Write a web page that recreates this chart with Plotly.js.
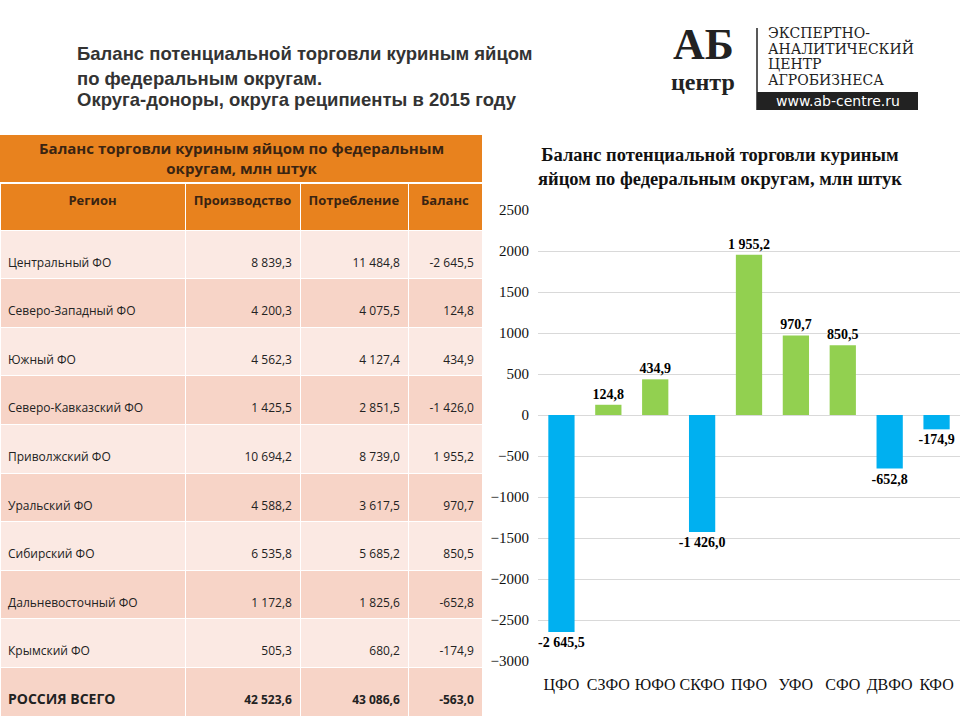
<!DOCTYPE html>
<html><head><meta charset="utf-8">
<script src="https://cdn.plot.ly/plotly-3.0.1.min.js"></script>
<style>html,body{margin:0;padding:0;background:#fff}#c{width:960px;height:720px}</style>
</head><body><div id="c"></div>
<script>
const regions = ["Центральный ФО","Северо-Западный ФО","Южный ФО","Северо-Кавказский ФО","Приволжский ФО","Уральский ФО","Сибирский ФО","Дальневосточный ФО","Крымский ФО","РОССИЯ ВСЕГО"];
const production = ["8 839,3","4 200,3","4 562,3","1 425,5","10 694,2","4 588,2","6 535,8","1 172,8","505,3","42 523,6"];
const consumption = ["11 484,8","4 075,5","4 127,4","2 851,5","8 739,0","3 617,5","5 685,2","1 825,6","680,2","43 086,6"];
const balanceText = ["-2 645,5","124,8","434,9","-1 426,0","1 955,2","970,7","850,5","-652,8","-174,9","-563,0"];
const tableHeaders = ["Регион","Производство","Потребление","Баланс"];

const districts = ["ЦФО","СЗФО","ЮФО","СКФО","ПФО","УФО","СФО","ДВФО","КФО"];
const balance = [-2645.5,124.8,434.9,-1426.0,1955.2,970.7,850.5,-652.8,-174.9];
const balanceLabels = ["-2 645,5","124,8","434,9","-1 426,0","1 955,2","970,7","850,5","-652,8","-174,9"];

const W=960,H=720;
const px=x=>x/W, py=y=>1-y/H;

const rowFill = regions.map((r,i)=> i%2===0 ? "#fbe9e3" : "#f7d4c7");
const last = regions.length-1;
const fmt = (arr)=>arr.map((v,i)=> i===last ? "&nbsp;<br><b>"+v+"</b>" : "&nbsp;<br>"+v);
const regionCells = regions.map((v,i)=> i===last ? "&nbsp;<br><b><span style='font-size:14px'>"+v+"</span></b>" : "&nbsp;<br>"+v);

const table = {
  type:"table",
  domain:{x:[0,px(482)], y:[0, py(183)]},
  columnwidth:[185,115,108,74],
  header:{
    values: tableHeaders.map(h=>"<b>"+h+"</b>"),
    align:"center",
    height:47,
    fill:{color:"#e8821e"},
    line:{color:"#ffffff", width:1},
    font:{family:"Open Sans, Noto Sans, sans-serif", size:13, color:"#3a2412"}
  },
  cells:{
    values:[regionCells, fmt(production), fmt(consumption), fmt(balanceText)],
    align:["left","right","right","right"],
    height:47.8,
    fill:{color:[rowFill,rowFill,rowFill,rowFill]},
    line:{color:"#ffffff", width:1},
    font:{family:"Open Sans, Noto Sans, sans-serif", size:12, color:"#222222"}
  }
};

const bars = {
  type:"bar",
  x:districts, y:balance,
  marker:{color:balance.map(v=> v<0 ? "#00b0f0" : "#92d050")},
  text:balanceLabels, textposition:"outside", cliponaxis:false, constraintext:"none",
  textfont:{family:"Liberation Serif, serif", size:14, color:"#000"},
  texttemplate:"<b>%{text}</b>",
  xaxis:"x", yaxis:"y", hoverinfo:"none"
};

const serif="Liberation Serif, Times New Roman, serif";
const narrow="Liberation Sans Narrow, Arial Narrow, sans-serif";
const ann = [
  {x:px(75),y:py(54),xref:"paper",yref:"paper",xanchor:"left",yanchor:"middle",showarrow:false,
   text:"<b>Баланс потенциальной торговли куриным яйцом</b>",font:{family:narrow,size:18.5,color:"#333"}},
  {x:px(75),y:py(78),xref:"paper",yref:"paper",xanchor:"left",yanchor:"middle",showarrow:false,
   text:"<b>по федеральным округам.</b>",font:{family:narrow,size:18.5,color:"#333"}},
  {x:px(75),y:py(100),xref:"paper",yref:"paper",xanchor:"left",yanchor:"middle",showarrow:false,
   text:"<b>Округа-доноры, округа реципиенты в 2015 году</b>",font:{family:narrow,size:18.5,color:"#333"}},
  // logo
  {x:px(703),y:py(44),xref:"paper",yref:"paper",xanchor:"center",yanchor:"middle",showarrow:false,
   text:"<b>АБ</b>",font:{family:serif,size:44,color:"#222"}},
  {x:px(703),y:py(82),xref:"paper",yref:"paper",xanchor:"center",yanchor:"middle",showarrow:false,
   text:"<b>центр</b>",font:{family:serif,size:24,color:"#222"}},
  {x:px(766),y:py(33),xref:"paper",yref:"paper",xanchor:"left",yanchor:"middle",showarrow:false,
   text:"ЭКСПЕРТНО-",font:{family:"DejaVu Serif, serif",size:14,color:"#222"}},
  {x:px(766),y:py(48),xref:"paper",yref:"paper",xanchor:"left",yanchor:"middle",showarrow:false,
   text:"АНАЛИТИЧЕСКИЙ",font:{family:"DejaVu Serif, serif",size:14,color:"#222"}},
  {x:px(766),y:py(64),xref:"paper",yref:"paper",xanchor:"left",yanchor:"middle",showarrow:false,
   text:"ЦЕНТР",font:{family:"DejaVu Serif, serif",size:14,color:"#222"}},
  {x:px(766),y:py(80),xref:"paper",yref:"paper",xanchor:"left",yanchor:"middle",showarrow:false,
   text:"АГРОБИЗНЕСА",font:{family:"DejaVu Serif, serif",size:14,color:"#222"}},
  {x:px(838),y:py(101),xref:"paper",yref:"paper",xanchor:"center",yanchor:"middle",showarrow:false,
   text:"www.ab-centre.ru",font:{family:"DejaVu Sans, sans-serif",size:14,color:"#fff"}},
  // table title
  {x:px(241),y:py(158),xref:"paper",yref:"paper",xanchor:"center",yanchor:"middle",showarrow:false,
   text:"<b>Баланс торговли куриным яйцом по федеральным<br>округам, млн штук</b>",
   font:{family:"Open Sans, Noto Sans, sans-serif",size:15,color:"#3a2412"}},
  // chart title
  {x:px(720),y:py(167),xref:"paper",yref:"paper",xanchor:"center",yanchor:"middle",showarrow:false,
   text:"<b>Баланс потенциальной торговли куриным<br>яйцом по федеральным округам, млн штук</b>",
   font:{family:serif,size:18.5,color:"#111"}}
];

const shapes = [
  {type:"rect",xref:"paper",yref:"paper",x0:0,x1:px(482),y0:py(182),y1:py(135),fillcolor:"#e8821e",line:{width:0},layer:"below"},
  {type:"line",xref:"paper",yref:"paper",x0:px(757),x1:px(757),y0:py(28),y1:py(110),line:{color:"#222",width:1.5}},
  {type:"rect",xref:"paper",yref:"paper",x0:px(757),x1:px(918),y0:py(110),y1:py(92),fillcolor:"#222",line:{width:0}}
];

const layout = {
  width:W,height:H,margin:{l:0,r:0,t:0,b:0},
  paper_bgcolor:"#fff",plot_bgcolor:"#fff",
  showlegend:false,
  bargap:0.44,
  xaxis:{domain:[px(538),1],type:"category",showgrid:false,zeroline:false,showline:false,
         tickfont:{family:serif,size:16,color:"#111"},ticks:"",ticklen:0,ticklabelstandoff:12,tickangle:0},
  yaxis:{domain:[py(661),py(210)],range:[-3000,2500],dtick:500,tick0:0,showgrid:true,gridcolor:"#d9d9d9",
         zeroline:true,zerolinecolor:"#d9d9d9",zerolinewidth:1,showline:false,
         tickfont:{family:serif,size:15,color:"#111"},ticks:"",ticklabelstandoff:8},
  annotations:ann, shapes:shapes
};

Plotly.newPlot("c",[table,bars],layout,{displayModeBar:false,staticPlot:true});
</script></body></html>
